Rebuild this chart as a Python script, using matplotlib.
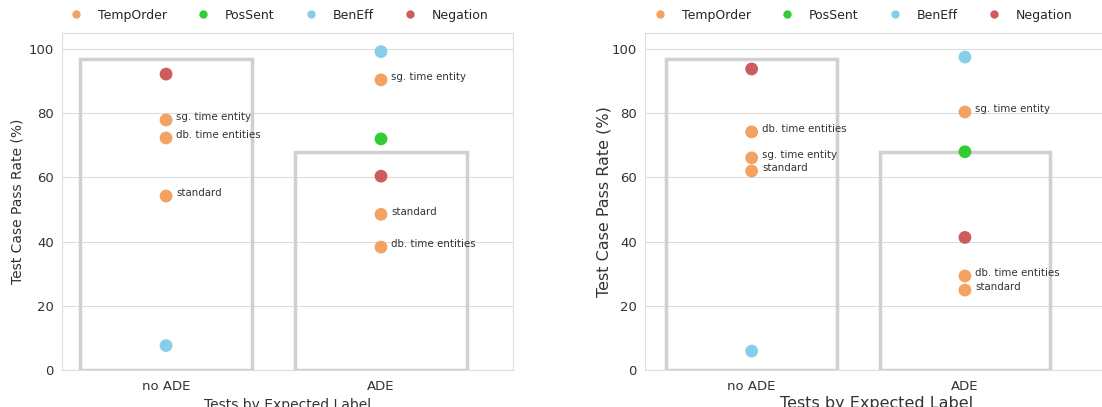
"""
Pass rates of test cases by expected label, two models side by side
"""
import matplotlib
matplotlib.use("Agg")
import matplotlib.pyplot as plt
import seaborn as sns
from matplotlib.lines import Line2D

sns.set_style("whitegrid")
plt.rcParams['font.family'] = ['DejaVu Sans']

categories = ["no ADE", "ADE"]
bar_values = [97, 68]

test_types = ["TempOrder", "PosSent", "BenEff", "Negation"]
type_colors = {"TempOrder": "#F4A261", "PosSent": "#32CD32",
               "BenEff": "#87CEEB", "Negation": "#CD5C5C"}

# (category, test type, pass rate, annotation)
left_points = [
    ("no ADE", "Negation", 92.2, ""),
    ("no ADE", "TempOrder", 77.9, "sg. time entity"),
    ("no ADE", "TempOrder", 72.3, "db. time entities"),
    ("no ADE", "TempOrder", 54.2, "standard"),
    ("no ADE", "BenEff", 7.6, ""),
    ("ADE", "BenEff", 99.2, ""),
    ("ADE", "TempOrder", 90.4, "sg. time entity"),
    ("ADE", "PosSent", 72.0, ""),
    ("ADE", "Negation", 60.4, ""),
    ("ADE", "TempOrder", 48.5, "standard"),
    ("ADE", "TempOrder", 38.3, "db. time entities"),
]
right_points = [
    ("no ADE", "Negation", 93.8, ""),
    ("no ADE", "TempOrder", 74.2, "db. time entities"),
    ("no ADE", "TempOrder", 66.1, "sg. time entity"),
    ("no ADE", "TempOrder", 62.0, "standard"),
    ("no ADE", "BenEff", 5.9, ""),
    ("ADE", "BenEff", 97.5, ""),
    ("ADE", "TempOrder", 80.4, "sg. time entity"),
    ("ADE", "PosSent", 68.0, ""),
    ("ADE", "Negation", 41.3, ""),
    ("ADE", "TempOrder", 29.3, "db. time entities"),
    ("ADE", "TempOrder", 24.9, "standard"),
]


def draw_panel(ax, points, label_size, xlim, ypad, xpad, legend_x):
    xs = range(len(categories))
    ax.bar(xs, bar_values, width=0.8, facecolor="none",
           edgecolor="#d0d0d0", linewidth=2.5, zorder=2)
    for cat, kind, val, note in points:
        x = categories.index(cat)
        ax.scatter(x, val, s=85, color=type_colors[kind], zorder=3,
                   edgecolors="none")
        if note:
            ax.annotate(note, (x, val), xytext=(7.5, 2), textcoords="offset points",
                        fontsize=7.4, color="#333333", va="center")
    ax.set_xticks(list(xs))
    ax.set_xticklabels(categories, fontsize=9.5, color="#333333")
    ax.set_ylim(0, 105)
    ax.set_yticks([0, 20, 40, 60, 80, 100])
    ax.tick_params(axis="y", labelsize=9.5, labelcolor="#333333", pad=2.5)
    ax.set_xlim(*xlim)
    ax.grid(axis="x", visible=False)
    ax.grid(axis="y", color="#dddddd")
    ax.set_ylabel("Test Case Pass Rate (%)", fontsize=label_size, color="#333333",
                  labelpad=ypad)
    ax.set_xlabel("Tests by Expected Label", fontsize=label_size, color="#333333",
                  labelpad=xpad)
    for s in ax.spines.values():
        s.set_color("#dddddd")
    handles = [Line2D([0], [0], marker="o", linestyle="", markersize=6,
                      markerfacecolor=type_colors[t], markeredgecolor="none",
                      label=t) for t in test_types]
    ax.legend(handles=handles, loc="lower center", bbox_to_anchor=(legend_x, 1.0),
              ncol=4, frameon=False, fontsize=9, handletextpad=0.75,
              columnspacing=1.9, borderaxespad=0.5)


fig = plt.figure(figsize=(11.02, 4.07), dpi=100)
ax1 = fig.add_axes([0.0563, 0.0909, 0.4092, 0.828])
ax2 = fig.add_axes([0.5853, 0.0909, 0.42, 0.828])

draw_panel(ax1, left_points, 10, (-0.484, 1.614), 3, 4, 0.475)
draw_panel(ax2, right_points, 11.5, (-0.5, 1.67), 0, 2.5, 0.465)

fig.savefig("out.png", dpi=100)
